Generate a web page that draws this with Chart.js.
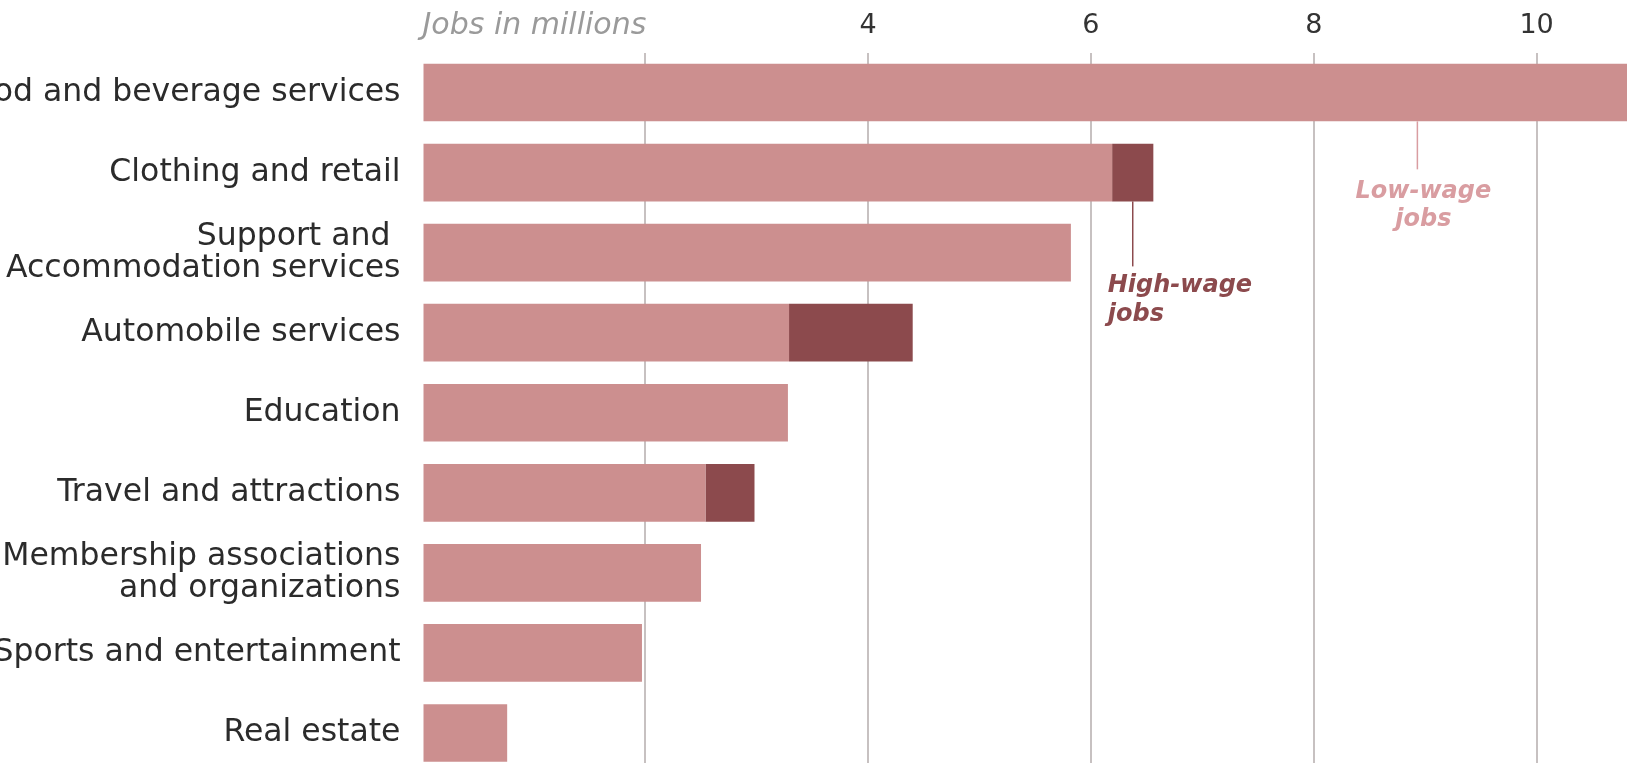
<!DOCTYPE html>
<html>
<head>
<meta charset="utf-8">
<script src="https://cdn.jsdelivr.net/npm/chart.js@4"></script>
<style>
  html, body { margin: 0; padding: 0; background: #fff; overflow: hidden; }
  #wrap { position: absolute; left: -300px; top: 0; width: 1948px; height: 773px; }
</style>
</head>
<body>
<div id="wrap"><canvas id="jobsChart"></canvas></div>
<script>
// categories (top to bottom)
const categories = [
    "Food and beverage services",
    "Clothing and retail",
    ["Support and ", "Accommodation services"],
    "Automobile services",
    "Education",
    "Travel and attractions",
    ["Membership associations", "and organizations"],
    "Sports and entertainment",
    "Real estate"
];

// jobs in millions
const lowWage  = [11.3, 6.19, 5.82, 3.29, 3.28, 2.54, 2.50, 1.97, 0.76];
const highWage = [0, 0.37, 0, 1.11, 0, 0.44, 0, 0, 0];

// tick labels shown on the top axis
const tickLabels = [4, 6, 8, 10];

const lowColor = "#cc8f8f";
const highColor = "#8c4a4d";
const FONT = "'DejaVu Sans', sans-serif";

// axis caption + the two callouts
const notes = {
    id: "notes",
    afterDraw(chart) {
        const ctx = chart.ctx;
        const x = chart.scales.x;
        ctx.save();

        ctx.font = "italic 30px " + FONT;
        ctx.fillStyle = "#9a9a9a";
        ctx.textAlign = "left";
        ctx.textBaseline = "middle";
        ctx.fillText("Jobs in millions", x.getPixelForValue(0), 26);

        // low-wage callout
        const food = chart.getDatasetMeta(0).data[0];
        const lx = x.getPixelForValue(8.93);
        const ly = food.y + food.height / 2;
        ctx.strokeStyle = "#d99da1";
        ctx.lineWidth = 1.5;
        ctx.beginPath();
        ctx.moveTo(lx, ly);
        ctx.lineTo(lx, ly + 48);
        ctx.stroke();
        ctx.font = "italic bold 24px " + FONT;
        ctx.fillStyle = "#d99da1";
        ctx.textAlign = "center";
        ctx.fillText("Low-wage", lx + 6, ly + 70);
        ctx.fillText("jobs", lx + 6, ly + 98);

        // high-wage callout
        const cloth = chart.getDatasetMeta(1).data[1];
        const hx = (cloth.x + cloth.base) / 2;
        const hy = cloth.y + cloth.height / 2;
        ctx.strokeStyle = highColor;
        ctx.beginPath();
        ctx.moveTo(hx, hy);
        ctx.lineTo(hx, hy + 65);
        ctx.stroke();
        ctx.fillStyle = highColor;
        ctx.textAlign = "left";
        ctx.fillText("High-wage", hx - 25, hy + 84);
        ctx.fillText("jobs", hx - 25, hy + 113);

        ctx.restore();
    }
};

const ctx = document.getElementById("jobsChart").getContext("2d");

new Chart(ctx, {
    type: "bar",
    data: {
        labels: categories,
        datasets: [
            { label: "Low-wage jobs", data: lowWage, backgroundColor: lowColor },
            { label: "High-wage jobs", data: highWage, backgroundColor: highColor }
        ]
    },
    options: {
        indexAxis: "y",
        responsive: true,
        maintainAspectRatio: false,
        animation: false,
        layout: { padding: 0 },
        categoryPercentage: 1,
        barPercentage: 0.72,
        plugins: {
            legend: { display: false },
            tooltip: { enabled: false }
        },
        scales: {
            x: {
                position: "top",
                stacked: true,
                min: 0,
                max: 11,
                z: 1,
                border: { display: false },
                grid: {
                    drawTicks: false,
                    lineWidth: 2,
                    color: c => (c.tick && c.tick.value > 0 && c.tick.value <= 10) ? "rgba(70,50,50,0.3)" : "rgba(0,0,0,0)"
                },
                ticks: {
                    stepSize: 2,
                    padding: 10,
                    color: "#333",
                    font: { family: FONT, size: 27 },
                    callback: v => tickLabels.includes(v) ? String(v) : ""
                },
                afterFit: s => {
                    s.height = 52.5;
                    s.paddingLeft = 0;
                    s.paddingRight = 0;
                }
            },
            y: {
                stacked: true,
                border: { display: false },
                grid: { display: false, drawTicks: false },
                ticks: {
                    padding: 22,
                    color: "#2b2b2b",
                    font: { family: FONT, size: 31.5, lineHeight: 1.0 }
                },
                afterFit: s => {
                    s.width = 722.5;
                    s.paddingTop = 0;
                    s.paddingBottom = 0;
                }
            }
        }
    },
    plugins: [notes]
});
</script>
</body>
</html>
